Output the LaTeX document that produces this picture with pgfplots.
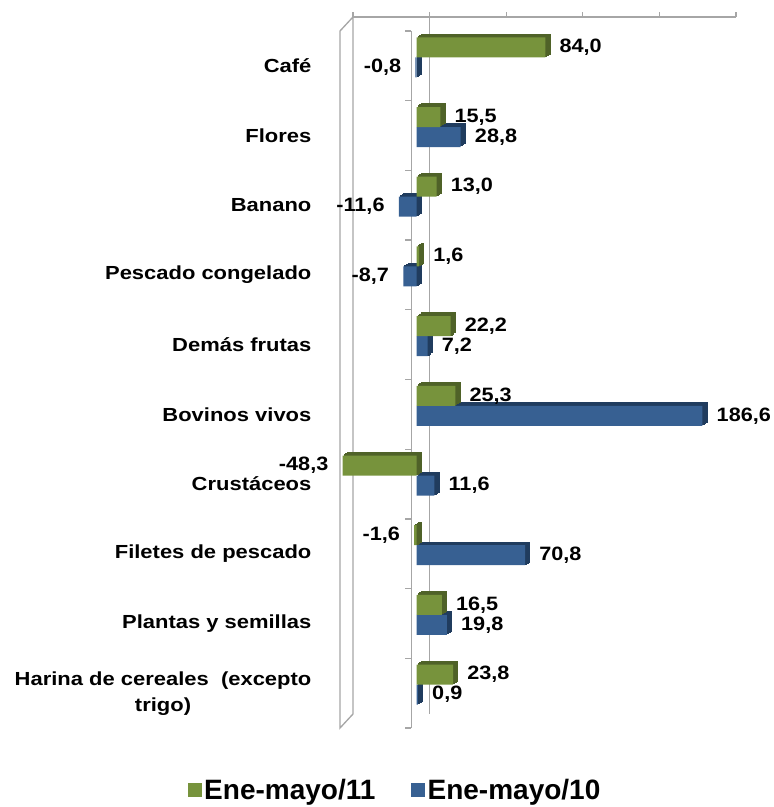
\documentclass[border=0pt]{standalone}
\usepackage{fontspec}
\setmainfont{Liberation Sans}
\newfontfamily\catfont{Liberation Sans}[FakeStretch=1.16]
\newfontfamily\valfont{Liberation Sans}[FakeStretch=1.12]
\usepackage{pgfplots}
\pgfplotsset{compat=1.18}
\definecolor{gfront}{HTML}{77933C}
\definecolor{gside}{HTML}{4F6228}
\definecolor{bfront}{HTML}{376092}
\definecolor{bside}{HTML}{203C5E}
\definecolor{wall}{HTML}{A6A6A6}
\pgfplotsset{myframe/.style={at={(255pt,59.25pt)}, anchor=south west,
  scale only axis, width=287.25pt, height=522.75pt,
  xmin=-50, xmax=200, ymin=-0.5, ymax=9.5, clip=false}}
\begin{document}
\begin{tikzpicture}
\path[use as bounding box] (0,0) rectangle (580.5pt,605.25pt);
% background decoration (3D wall and back lines)
\begin{axis}[myframe, hide axis]
\addplot[draw=none, forget plot] coordinates {(0,0)};
\draw[wall, line width=1pt] (axis cs:-50,9.5) -- ([shift={(9.75pt,10.5pt)}]axis cs:-50,9.5)
   -- ([shift={(9.75pt,10.5pt)}]axis cs:-50,-0.5) -- (axis cs:-50,-0.5) -- cycle;
\draw[wall, line width=1pt] ([shift={(9.75pt,10.5pt)}]axis cs:-50,9.5) -- ([shift={(9.75pt,10.5pt)}]axis cs:200,9.5);
\pgfplotsinvokeforeach{-50,0,50,100,150,200}{
  \draw[wall, line width=1pt] ([shift={(9.75pt,10.5pt)}]axis cs:#1,9.5) -- ([shift={(9.75pt,14.25pt)}]axis cs:#1,9.5);
}
\draw[wall, line width=1pt] ([shift={(9.75pt,10.5pt)}]axis cs:0,9.5) -- ([shift={(9.75pt,10.5pt)}]axis cs:0,-0.5);
\draw[wall, line width=1pt] (axis cs:-3.5,9.5) -- (axis cs:-3.5,-0.5);
\pgfplotsinvokeforeach{-0.5,0.5,1.5,2.5,3.5,4.5,5.5,6.5,7.5,8.5,9.5}{
  \draw[wall, line width=1pt] (axis cs:-3.5,#1) -- ([xshift=-4.5pt]axis cs:-3.5,#1);
}
\end{axis}
\begin{axis}[
  myframe,
  axis x line=none,
  axis y line=left,
  y axis line style={draw=none,-},
  ytick style={draw=none},
  ytick={0,...,9},
  yticklabels={{Harina de cereales~ (excepto\\trigo)},Plantas y semillas,Filetes de pescado,Crustáceos,Bovinos vivos,Demás frutas,Pescado congelado,Banano,Flores,Café},
  yticklabel style={anchor=east, align=center, inner sep=0pt, xshift=-17pt,
    font=\catfont\bfseries\fontsize{14.2}{19.5}\selectfont},
  xbar, bar width=15pt,
  /pgf/number format/.cd, fixed, fixed zerofill, precision=1, use comma, assume math mode=true,
  /pgfplots/.cd,
  legend style={at={(rel axis cs:0.145,-0.089)}, anchor=center, draw=none, fill=none,
    legend columns=2, font=\bfseries\fontsize{21}{24}\selectfont,
    /tikz/every even column/.append style={column sep=25pt}},
  legend cell align=left,
  shadowB/.style={xbar, fill=bside, draw=bside, line width=0.7pt, bar shift=-1.1pt, forget plot},
  shadowG/.style={xbar, fill=gside, draw=gside, line width=0.7pt, bar shift=13.9pt, forget plot},
  vlabels/.style={nodes near coords, nodes near coords align=horizontal,
    every node near coord/.append style={font=\valfont\bfseries\fontsize{14.5}{16}\selectfont, text=black,
     inner xsep=10.5pt}},
]
% Ene-mayo/10 (blue) : 3D side faces, then front
\addplot[shadowB, xshift=1.2pt, yshift=0.8pt]
  coordinates {(-0.8,9) (28.8,8) (-11.6,7) (-8.7,6) (7.2,5) (186.6,4) (11.6,3) (70.8,2) (19.8,1) (0.9,0)};
\addplot[shadowB, xshift=2.4pt, yshift=1.6pt]
  coordinates {(-0.8,9) (28.8,8) (-11.6,7) (-8.7,6) (7.2,5) (186.6,4) (11.6,3) (70.8,2) (19.8,1) (0.9,0)};
\addplot[shadowB, xshift=3.6pt, yshift=2.4pt]
  coordinates {(-0.8,9) (28.8,8) (-11.6,7) (-8.7,6) (7.2,5) (186.6,4) (11.6,3) (70.8,2) (19.8,1) (0.9,0)};
\addplot[xbar, fill=bfront, draw=none, bar shift=-1.1pt, forget plot, vlabels]
  coordinates {(-0.8,9) (28.8,8) (-11.6,7) (-8.7,6) (7.2,5) (186.6,4) (11.6,3) (70.8,2) (19.8,1) (0.9,0)};
% Ene-mayo/11 (green)
\addplot[shadowG, xshift=1.2pt, yshift=0.8pt]
  coordinates {(84.0,9) (15.5,8) (13.0,7) (1.6,6) (22.2,5) (25.3,4) (-48.3,3) (-1.6,2) (16.5,1) (23.8,0)};
\addplot[shadowG, xshift=2.4pt, yshift=1.6pt]
  coordinates {(84.0,9) (15.5,8) (13.0,7) (1.6,6) (22.2,5) (25.3,4) (-48.3,3) (-1.6,2) (16.5,1) (23.8,0)};
\addplot[shadowG, xshift=3.6pt, yshift=2.4pt]
  coordinates {(84.0,9) (15.5,8) (13.0,7) (1.6,6) (22.2,5) (25.3,4) (-48.3,3) (-1.6,2) (16.5,1) (23.8,0)};
\addplot[xbar, fill=gfront, draw=none, bar shift=13.9pt, forget plot, vlabels]
  coordinates {(84.0,9) (15.5,8) (13.0,7) (1.6,6) (22.2,5) (25.3,4) (-48.3,3) (-1.6,2) (16.5,1) (23.8,0)};
\addlegendimage{legend image code/.code={\fill[gfront] (0pt,-4.9pt) rectangle (9.75pt,4.9pt);}}
\addlegendentry{Ene-mayo/11}
\addlegendimage{legend image code/.code={\fill[bfront] (0pt,-4.9pt) rectangle (9.75pt,4.9pt);}}
\addlegendentry{Ene-mayo/10}
\end{axis}
\end{tikzpicture}
\end{document}
